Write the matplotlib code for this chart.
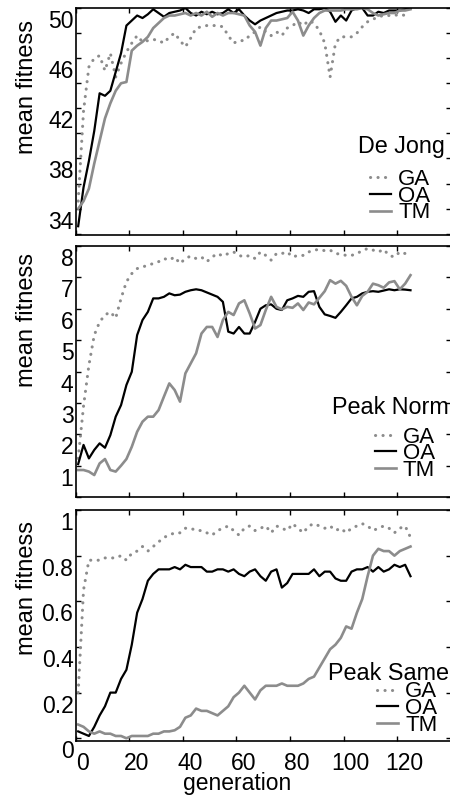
import numpy as np
import matplotlib
matplotlib.use('Agg')
import matplotlib.pyplot as plt
from matplotlib.transforms import ScaledTranslation

plt.rcParams['font.family'] = ['Liberation Sans', 'DejaVu Sans']

generation = np.arange(1, 126, 2)

dejong_ga = [34.6, 41.8, 45.3, 46.0, 46.2, 45.0, 46.4, 44.5, 45.6, 46.5,
             47.2, 47.8, 47.3, 47.4, 47.5, 47.4, 47.2, 47.7, 48.0, 47.4,
             46.9, 47.6, 48.4, 48.5, 48.6, 48.6, 48.6, 48.5, 47.8, 47.2,
             47.4, 47.4, 47.8, 48.1, 48.5, 48.1, 47.8, 48.1, 47.8, 48.4,
             48.6, 48.9, 48.6, 49.0, 48.8, 48.2, 47.2, 44.5, 47.2, 47.7,
             47.7, 47.7, 48.0, 48.5, 48.9, 49.1, 49.3, 49.4, 49.4, 49.4,
             49.5, 49.4, 49.3]
dejong_oa = [32.6, 35.7, 37.8, 40.2, 43.2, 43.0, 43.4, 44.9, 46.4, 48.6,
             49.0, 49.4, 49.2, 49.5, 49.9, 49.6, 49.3, 49.6, 49.7, 49.8,
             50.0, 49.6, 49.4, 49.7, 49.5, 49.7, 49.5, 49.6, 49.9, 49.6,
             49.9, 49.4, 49.0, 48.7, 49.0, 49.2, 49.4, 49.6, 49.7, 49.8,
             49.8, 49.9, 49.8, 49.6, 49.9, 49.9, 50.0, 49.7, 48.9, 49.4,
             49.0, 49.8, 50.0, 50.0, 49.4, 49.4, 49.7, 49.6, 49.8, 49.8,
             49.8, 49.9, 50.0]
dejong_tm = [34.0, 34.6, 35.6, 37.6, 39.4, 41.2, 42.4, 43.4, 44.0, 44.1,
             46.6, 47.0, 47.3, 47.7, 48.4, 48.8, 49.2, 49.4, 49.4, 49.5,
             49.6, 49.4, 49.6, 49.4, 49.7, 49.3, 49.6, 49.4, 49.6, 49.6,
             49.5, 49.4, 48.6, 48.1, 47.0, 48.4, 49.0, 49.0, 49.1, 49.2,
             49.7, 49.0, 47.8, 48.6, 49.2, 49.6, 49.8, 49.8, 49.8, 49.8,
             49.9, 49.9, 49.9, 50.0, 49.9, 49.6, 49.4, 49.5, 49.6, 49.6,
             49.8, 49.8, 49.9]

norm_ga = [1.23, 2.9, 4.2, 5.16, 5.58, 5.8, 5.9, 5.7, 6.33, 6.86,
           7.12, 7.28, 7.33, 7.39, 7.44, 7.5, 7.6, 7.55, 7.65, 7.44,
           7.6, 7.68, 7.6, 7.65, 7.5, 7.65, 7.76, 7.68, 7.76, 7.81,
           7.7, 7.65, 7.7, 7.6, 7.81, 7.7, 7.55, 7.76, 7.76, 7.81,
           7.65, 7.7, 7.7, 7.81, 7.87, 7.89, 7.85, 7.87, 7.76, 7.74,
           7.7, 7.7, 7.76, 7.85, 7.92, 7.87, 7.81, 7.89, 7.7, 7.65,
           7.81, 7.76, 7.7]
norm_oa = [1.05, 1.66, 1.23, 1.5, 1.71, 1.57, 1.97, 2.56, 2.93, 3.57,
           3.99, 5.16, 5.64, 5.9, 6.33, 6.33, 6.38, 6.49, 6.43, 6.45,
           6.54, 6.59, 6.62, 6.59, 6.52, 6.45, 6.38, 6.22, 5.27, 5.21,
           5.42, 5.21, 5.21, 5.58, 6.0, 6.11, 6.14, 6.0, 5.96, 6.27,
           6.33, 6.41, 6.38, 6.54, 6.56, 6.06, 5.82, 5.77, 5.71, 5.9,
           6.11, 6.33, 6.38, 6.49, 6.54, 6.56, 6.54, 6.58, 6.62, 6.59,
           6.62, 6.61, 6.59]
norm_tm = [0.86, 0.86, 0.81, 0.7, 1.07, 1.21, 0.86, 0.81, 1.0, 1.21,
           1.6, 2.08, 2.4, 2.56, 2.56, 2.77, 3.2, 3.62, 3.41, 3.04,
           3.94, 4.26, 4.58, 5.21, 5.42, 5.42, 5.1, 5.64, 5.9, 5.8,
           6.17, 6.27, 5.85, 5.37, 5.48, 5.96, 6.38, 6.06, 5.98, 6.06,
           6.03, 6.17, 5.96, 6.2, 6.14, 6.35, 6.56, 6.91, 6.8, 6.89,
           6.73, 6.38, 6.11, 6.41, 6.54, 6.8, 6.75, 6.67, 6.84, 6.88,
           6.62, 6.8, 7.07]

same_ga = [0.2, 0.65, 0.78, 0.78, 0.78, 0.79, 0.79, 0.79, 0.8, 0.78,
           0.81, 0.82, 0.84, 0.82, 0.84, 0.86, 0.88, 0.89, 0.9, 0.9,
           0.92, 0.92, 0.91, 0.91, 0.9, 0.89, 0.91, 0.92, 0.93, 0.91,
           0.89, 0.92, 0.93, 0.91, 0.92, 0.93, 0.9, 0.93, 0.92, 0.91,
           0.94, 0.92, 0.9, 0.93, 0.94, 0.93, 0.92, 0.93, 0.91, 0.92,
           0.9, 0.92, 0.93, 0.94, 0.93, 0.91, 0.92, 0.93, 0.92, 0.9,
           0.92, 0.93, 0.88]
same_oa = [0.03, 0.02, 0.01, 0.05, 0.1, 0.14, 0.2, 0.2, 0.26, 0.3,
           0.41, 0.55, 0.61, 0.69, 0.72, 0.74, 0.74, 0.74, 0.75, 0.74,
           0.76, 0.75, 0.75, 0.75, 0.73, 0.73, 0.74, 0.74, 0.73, 0.74,
           0.72, 0.71, 0.73, 0.74, 0.71, 0.69, 0.73, 0.74, 0.66, 0.68,
           0.72, 0.72, 0.72, 0.72, 0.74, 0.71, 0.73, 0.73, 0.7, 0.69,
           0.69, 0.73, 0.74, 0.74, 0.75, 0.73, 0.75, 0.73, 0.74, 0.76,
           0.75, 0.76, 0.71]
same_tm = [0.06, 0.05, 0.03, 0.02, 0.03, 0.02, 0.02, 0.01, 0.01, 0.0,
           0.01, 0.01, 0.01, 0.01, 0.02, 0.02, 0.03, 0.03, 0.035, 0.05,
           0.09, 0.1, 0.13, 0.12, 0.12, 0.11, 0.1, 0.12, 0.14, 0.18,
           0.2, 0.23, 0.2, 0.17, 0.21, 0.23, 0.23, 0.23, 0.24, 0.23,
           0.23, 0.23, 0.24, 0.26, 0.27, 0.31, 0.35, 0.39, 0.41, 0.44,
           0.49, 0.48, 0.55, 0.61, 0.71, 0.8, 0.83, 0.82, 0.82, 0.8,
           0.82, 0.83, 0.84]

series_names = ['GA', 'OA', 'TM']
panel_titles = ['De Jong', 'Peak Norm', 'Peak Same']

dejong_ticks = [32, 34, 36, 38, 40, 42, 44, 46, 48, 50]
dejong_labels = ['', '34', '', '38', '', '42', '', '46', '', '50']
norm_ticks = [0, 1, 2, 3, 4, 5, 6, 7, 8]
norm_labels = ['', '1', '2', '3', '4', '5', '6', '7', '8']
same_ticks = [0, 0.2, 0.4, 0.6, 0.8, 1.0]
same_labels = ['0', '0.2', '0.4', '0.6', '0.8', '1']
x_ticks = [0, 20, 40, 60, 80, 100, 120, 140]
x_labels = ['0', '20', '40', '60', '80', '100', '120', '']

GRAY = '#8c8c8c'
fig = plt.figure(figsize=(4.5, 7.98), dpi=100)

W = 450.0
H = 798.0
left = 75.5 / W
width = 375.2 / W
panels = [
    dict(top=8, bot=235, data=(dejong_ga, dejong_oa, dejong_tm), ylim=(31.9, 50.0),
         ticks=dejong_ticks, labels=dejong_labels, title_xy=(0.985, 0.388),
         leg_xy=(0.785, 0.29), ylab_y=0.652),
    dict(top=246, bot=497, data=(norm_ga, norm_oa, norm_tm), ylim=(0.0, 8.0),
         ticks=norm_ticks, labels=norm_labels, title_xy=(0.995, 0.355),
         leg_xy=(0.797, 0.28), ylab_y=0.705),
    dict(top=510, bot=741, data=(same_ga, same_oa, same_tm), ylim=(-0.012, 1.0),
         ticks=same_ticks, labels=same_labels, title_xy=(0.995, 0.294),
         leg_xy=(0.803, 0.258), ylab_y=0.662),
]

axes = []
for i, p in enumerate(panels):
    ax = fig.add_axes([left, 1 - p['bot'] / H, width, (p['bot'] - p['top']) / H])
    axes.append(ax)
    ga, oa, tm = p['data']
    ax.plot(generation, ga, color=GRAY, lw=2.2, linestyle=(0, (0.05, 2.4)),
            dash_capstyle='round', solid_capstyle='round', label=series_names[0])
    ax.plot(generation, oa, color='black', lw=1.6, label=series_names[1])
    ax.plot(generation, tm, color=GRAY, lw=1.9, label=series_names[2])
    ax.set_xlim(0, 140)
    ax.set_ylim(*p['ylim'])
    ax.set_yticks(p['ticks'])
    ax.set_yticklabels(p['labels'], fontsize=16.5)
    ax.set_xticks(x_ticks)
    ax.tick_params(direction='in', length=3.5, width=1.0, top=True, right=True,
                   pad=1.5, colors='black')
    for s in ax.spines.values():
        s.set_linewidth(1.2)
    if i < 2:
        ax.set_xticklabels([])
    else:
        ax.set_xticklabels(x_labels, fontsize=16.5)
        ax.tick_params(axis='x', pad=8)
        for lab in ax.get_xticklabels():
            lab.set_transform(lab.get_transform() + ScaledTranslation(7 / 100, 0, fig.dpi_scale_trans))
        ax.set_xlabel('generation', fontsize=16.5)
        ax.xaxis.set_label_coords(0.43, -0.135)
    for lab in ax.get_yticklabels():
        lab.set_transform(lab.get_transform() + ScaledTranslation(0, -11 / 100, fig.dpi_scale_trans))
    ax.set_ylabel('mean fitness', fontsize=17, va='center', ha='center')
    ax.yaxis.set_label_coords(-0.128, p['ylab_y'])
    ax.text(p['title_xy'][0], p['title_xy'][1], panel_titles[i], transform=ax.transAxes,
            ha='right', va='center', fontsize=16.8)
    leg = ax.legend(loc='upper left', bbox_to_anchor=p['leg_xy'], frameon=False,
                    fontsize=16, labelspacing=-0.2, handlelength=0.95,
                    handletextpad=0.32, borderpad=0, borderaxespad=0)

fig.savefig('out.png', dpi=100)
